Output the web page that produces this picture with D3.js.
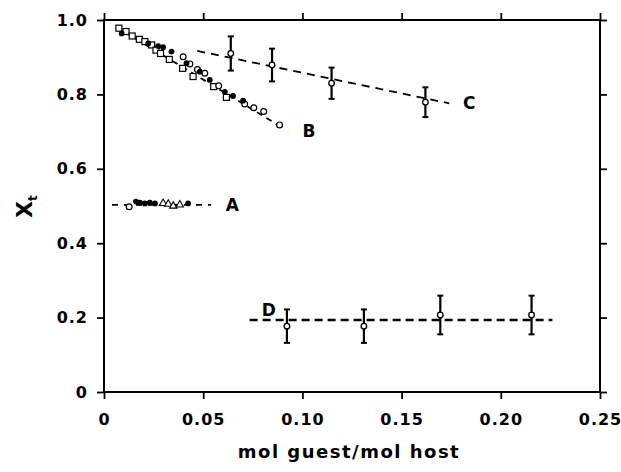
<!DOCTYPE html>
<html>
<head>
<meta charset="utf-8">
<script src="https://cdn.jsdelivr.net/npm/d3@7"></script>
<style>
  body { margin: 0; background: #fff; }
  text { font-family: "DejaVu Sans", sans-serif; font-weight: bold; fill: #000; }
</style>
</head>
<body>
<div id="chart"></div>
<script>
// tick values
const xTicks = [0, 0.05, 0.10, 0.15, 0.20, 0.25]
const yTicks = [0, 0.2, 0.4, 0.6, 0.8, 1.0]

// series B (three kinds of markers)
const bSquares = [
  [0.0075, 0.978], [0.0111, 0.969], [0.0142, 0.957], [0.0178, 0.948], [0.0206, 0.942],
  [0.0240, 0.933], [0.0262, 0.919], [0.0285, 0.910], [0.0329, 0.894], [0.0396, 0.870],
  [0.0449, 0.848], [0.0553, 0.821], [0.0617, 0.792]
]
const bCircles = [
  [0.0399, 0.901], [0.0433, 0.882], [0.0471, 0.867], [0.0508, 0.857], [0.0578, 0.823],
  [0.0709, 0.774], [0.0755, 0.764], [0.0805, 0.754], [0.0885, 0.718]
]
const bFilled = [
  [0.0089, 0.964], [0.0223, 0.937], [0.0273, 0.930], [0.0298, 0.927], [0.0340, 0.915],
  [0.0416, 0.884], [0.0483, 0.861], [0.0533, 0.839], [0.0609, 0.807], [0.0650, 0.796],
  [0.0701, 0.783]
]

// series A
const aCircles = [[0.0127, 0.498]]
const aFilled = [[0.0161, 0.512], [0.0181, 0.509], [0.0206, 0.507], [0.0231, 0.509], [0.0257, 0.507], [0.0424, 0.507]]
const aTriangles = [[0.0298, 0.507], [0.0324, 0.505], [0.0349, 0.500], [0.0382, 0.503]]

// series C and D with error bars: [x, y, err]
const cPoints = [[0.0639, 0.910, 0.046], [0.0847, 0.879, 0.044], [0.1147, 0.830, 0.042], [0.1620, 0.779, 0.040]]
const dPoints = [[0.0922, 0.177, 0.045], [0.1310, 0.177, 0.045], [0.1695, 0.207, 0.052], [0.2155, 0.207, 0.052]]

// dashed fit lines
const lineA = [[0.004, 0.503], [0.054, 0.503]]
const lineB = [[0.006, 0.982], [0.0895, 0.712]]
const lineC = [[0.047, 0.917], [0.174, 0.776]]
const lineD = [[0.0734, 0.1935], [0.226, 0.1935]]

const labels = [
  { t: 'A', x: 0.0614, y: 0.503 },
  { t: 'B', x: 0.1000, y: 0.702 },
  { t: 'C', x: 0.1810, y: 0.777 },
  { t: 'D', x: 0.0795, y: 0.220 }
]

const width = 621
const height = 472
const m_left = 104, m_right = 600, m_top = 20, m_bottom = 392

const x = d3.scaleLinear().domain([0, 0.25]).range([m_left, m_right])
const y = d3.scaleLinear().domain([0, 1]).range([m_bottom, m_top])

const svg = d3.select('#chart').append('svg')
  .attr('width', width)
  .attr('height', height)

// frame
svg.append('rect')
  .attr('x', m_left).attr('y', m_top)
  .attr('width', m_right - m_left).attr('height', m_bottom - m_top)
  .attr('fill', 'none').attr('stroke', '#000').attr('stroke-width', 2)

const fmtX = d => d === 0 ? '0' : d3.format('.2f')(d)
const fmtY = d => d === 0 ? '0' : d3.format('.1f')(d)

function styleAxis(g) {
  g.select('.domain').remove()
  g.selectAll('.tick line').attr('stroke', '#000').attr('stroke-width', 1.8)
  g.selectAll('.tick text')
    .style('font-family', '"DejaVu Sans", sans-serif')
    .style('font-weight', 'bold')
    .style('font-size', '16px')
    .style('letter-spacing', '1px')
}

svg.append('g').attr('transform', `translate(0,${m_bottom})`)
  .call(d3.axisBottom(x).tickValues(xTicks).tickFormat(fmtX).tickSize(7).tickPadding(15))
  .call(styleAxis)
svg.append('g').attr('transform', `translate(0,${m_top})`)
  .call(d3.axisTop(x).tickValues(xTicks).tickFormat('').tickSize(7))
  .call(styleAxis)
svg.append('g').attr('transform', `translate(${m_left},0)`)
  .call(d3.axisLeft(y).tickValues(yTicks).tickFormat(fmtY).tickSize(7).tickPadding(9))
  .call(styleAxis)
svg.append('g').attr('transform', `translate(${m_right},0)`)
  .call(d3.axisRight(y).tickValues(yTicks).tickFormat('').tickSize(7))
  .call(styleAxis)

// axis titles
svg.append('text')
  .attr('x', (m_left + m_right) / 2 - 3).attr('y', 458)
  .attr('text-anchor', 'middle')
  .style('font-size', '18px')
  .style('letter-spacing', '1.5px')
  .text('mol guest/mol host')

const yt = svg.append('text')
  .attr('transform', 'translate(32,218) rotate(-90)')
  .style('font-size', '22px')
yt.append('tspan').text('X')
yt.append('tspan').attr('dy', 5).style('font-size', '12px').text('t')

// fit lines
const line = d3.line().x(d => x(d[0])).y(d => y(d[1]))
const fits = [
  { d: lineA, w: 1.8, dash: '6,6' },
  { d: lineB, w: 1.8, dash: '6,5' },
  { d: lineC, w: 1.8, dash: '8,6' },
  { d: lineD, w: 2.4, dash: '8,5' }
]
svg.append('g').selectAll('path')
  .data(fits)
  .enter()
  .append('path')
  .attr('d', d => line(d.d))
  .attr('fill', 'none')
  .attr('stroke', '#000')
  .attr('stroke-width', d => d.w)
  .attr('stroke-dasharray', d => d.dash)

// error bars
const errs = cPoints.concat(dPoints)
const eb = svg.append('g').selectAll('g')
  .data(errs)
  .enter()
  .append('g')
eb.append('line')
  .attr('x1', d => x(d[0])).attr('x2', d => x(d[0]))
  .attr('y1', d => y(d[1] - d[2])).attr('y2', d => y(d[1] + d[2]))
  .attr('stroke', '#000').attr('stroke-width', 2.2)
eb.selectAll('.cap')
  .data(d => [[d[0], d[1] - d[2]], [d[0], d[1] + d[2]]])
  .enter()
  .append('line')
  .attr('x1', d => x(d[0]) - 3).attr('x2', d => x(d[0]) + 3)
  .attr('y1', d => y(d[1])).attr('y2', d => y(d[1]))
  .attr('stroke', '#000').attr('stroke-width', 2)
eb.append('circle')
  .attr('cx', d => x(d[0])).attr('cy', d => y(d[1]))
  .attr('r', 2.8)
  .attr('fill', '#fff').attr('stroke', '#000').attr('stroke-width', 1.3)

// markers
const markers = svg.append('g')
markers.selectAll('.sq')
  .data(bSquares)
  .enter()
  .append('rect')
  .attr('x', d => x(d[0]) - 3).attr('y', d => y(d[1]) - 3)
  .attr('width', 6).attr('height', 6)
  .attr('fill', '#fff').attr('stroke', '#000').attr('stroke-width', 1.2)

markers.selectAll('.oc')
  .data(bCircles.concat(aCircles))
  .enter()
  .append('circle')
  .attr('cx', d => x(d[0])).attr('cy', d => y(d[1]))
  .attr('r', 2.9)
  .attr('fill', '#fff').attr('stroke', '#000').attr('stroke-width', 1.2)

markers.selectAll('.fc')
  .data(bFilled.concat(aFilled))
  .enter()
  .append('circle')
  .attr('cx', d => x(d[0])).attr('cy', d => y(d[1]))
  .attr('r', 2.9)
  .attr('fill', '#000')

const tri = d3.symbol().type(d3.symbolTriangle).size(24)
markers.selectAll('.tr')
  .data(aTriangles)
  .enter()
  .append('path')
  .attr('d', tri)
  .attr('transform', d => `translate(${x(d[0])},${y(d[1])})`)
  .attr('fill', '#fff').attr('stroke', '#000').attr('stroke-width', 1.1)

// series labels
svg.append('g').selectAll('text')
  .data(labels)
  .enter()
  .append('text')
  .attr('x', d => x(d.x)).attr('y', d => y(d.y))
  .attr('dy', '0.35em')
  .style('font-size', '17px')
  .text(d => d.t)
</script>
</body>
</html>
